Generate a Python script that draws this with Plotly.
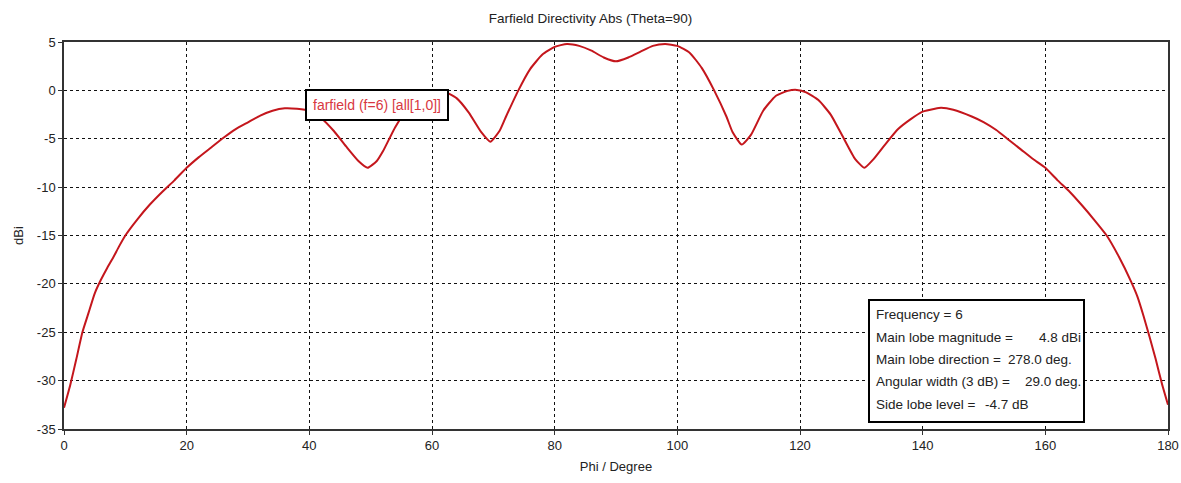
import plotly.graph_objects as go

phi = [0, 1, 2, 3, 4, 5, 6, 7, 8, 9, 10, 12, 14, 16, 18, 20, 22, 24, 26, 28, 30, 32, 34, 36, 38, 40,
       42, 44, 46, 48, 49.5, 51, 52, 54, 56, 58, 60, 61, 62, 64, 66, 68, 69.5, 71, 72, 74, 76, 78, 80,
       82, 84, 86, 88, 90, 92, 94, 96, 98, 100, 102, 104, 106, 108, 109, 110.5, 112, 114, 116, 118,
       119.5, 121, 123, 125, 127, 129, 130.5, 132, 134, 136, 138, 140, 142, 143, 145, 148, 150, 152,
       154, 156, 158, 160, 162, 164, 166, 168, 170, 172, 174, 175, 176, 177, 178, 179, 180]
dbi = [-32.8, -30.5, -27.8, -25.0, -23.0, -21.0, -19.6, -18.4, -17.3, -16.1, -15.0, -13.3, -11.8,
       -10.5, -9.3, -8.0, -6.9, -5.9, -4.9, -4.0, -3.3, -2.6, -2.1, -1.85, -1.9, -2.1,
       -2.9, -4.2, -5.8, -7.3, -8.0, -7.3, -6.3, -3.8, -1.9, -0.6, -0.05, 0.05, -0.1, -0.8, -2.3, -4.3,
       -5.3, -4.2, -2.8, -0.1, 2.2, 3.7, 4.5,
       4.8, 4.6, 4.1, 3.4, 3.0, 3.4, 4.0, 4.6, 4.8, 4.6, 3.9, 2.3, 0.0, -2.7, -4.3, -5.6, -4.6, -2.1,
       -0.6, -0.05, 0.05, -0.2, -1.0, -2.5, -4.8, -7.1, -8.0, -7.1, -5.5, -4.0, -3.0, -2.2, -1.9, -1.8,
       -2.0, -2.7, -3.3, -4.1, -5.1, -6.1, -7.1, -8.0, -9.3, -10.5, -11.9, -13.4, -15.0, -17.2, -19.8,
       -21.3, -23.3, -25.5, -27.8, -30.3, -32.5]

x_ticks = [0, 20, 40, 60, 80, 100, 120, 140, 160, 180]
y_ticks = [5, 0, -5, -10, -15, -20, -25, -30, -35]

title_text = "Farfield Directivity Abs (Theta=90)"
legend_text = "farfield (f=6) [all[1,0]]"
info_labels = ["Frequency = 6", "Main lobe magnitude =", "Main lobe direction =",
               "Angular width (3 dB) =", "Side lobe level ="]
info_values = ["", "4.8 dBi", "278.0 deg.", "29.0 deg.", "-4.7 dB"]

FONT = "Liberation Sans"
LINE_RED = "#c4161c"
TEXT_RED = "#d8383f"

# pixel geometry of the plot area
L, R, T, B = 64, 1168, 42, 429
def px(x):
    return (x - L) / (R - L)
def py(y):
    return (B - y) / (B - T)

fig = go.Figure()
fig.add_trace(go.Scatter(x=phi, y=dbi, mode="lines",
                         line=dict(color=LINE_RED, width=2, shape="spline", smoothing=0.5),
                         showlegend=False, hoverinfo="x+y"))

fig.update_layout(
    width=1181, height=483,
    paper_bgcolor="white", plot_bgcolor="white",
    margin=dict(l=L, r=1181 - R, t=T, b=483 - B, autoexpand=False),
    font=dict(family=FONT, size=13, color="#222"),
    title=dict(text=title_text, x=0.5, xanchor="center", y=1 - 18 / 483, yanchor="middle",
               font=dict(family=FONT, size=13.5, color="#222")),
    xaxis=dict(range=[0, 180], tickvals=x_ticks, ticktext=[str(v) for v in x_ticks],
               showgrid=True, gridcolor="#111", griddash="dot", gridwidth=1,
               showline=True, linecolor="#333", linewidth=1.5, mirror=True,
               ticks="outside", ticklen=4, tickcolor="#333", zeroline=False,
               tickfont=dict(size=13),
               title=dict(text="Phi / Degree", standoff=10, font=dict(size=13))),
    yaxis=dict(range=[-35, 5], tickvals=y_ticks, ticktext=[str(v) for v in y_ticks],
               showgrid=True, gridcolor="#111", griddash="dot", gridwidth=1,
               showline=True, linecolor="#333", linewidth=1.5, mirror=True,
               ticks="outside", ticklen=4, tickcolor="#333", zeroline=False,
               tickfont=dict(size=13),
               title=dict(text="dBi", standoff=10, font=dict(size=13))),
)

# curve label box
fig.add_annotation(xref="paper", yref="paper", x=px(376.5), y=py(105),
                   text=legend_text, showarrow=False, font=dict(family=FONT, size=14, color=TEXT_RED),
                   bgcolor="white", bordercolor="#000", borderwidth=2, borderpad=6,
                   xanchor="center", yanchor="middle")

# info box
fig.add_shape(type="rect", xref="paper", yref="paper",
              x0=px(869), x1=px(1084), y0=py(422), y1=py(300),
              line=dict(color="#000", width=2), fillcolor="white", layer="above")
value_x = [0, 1037, 1006, 1023, 983]
for i, (lab, val) in enumerate(zip(info_labels, info_values)):
    ypix = 315 + i * 22.3
    fig.add_annotation(xref="paper", yref="paper", x=px(874), y=py(ypix),
                       text=lab, showarrow=False, xanchor="left",
                       yanchor="middle", font=dict(family=FONT, size=13.5, color="#222"))
    if val:
        fig.add_annotation(xref="paper", yref="paper", x=px(value_x[i]), y=py(ypix),
                           text=val, showarrow=False, xanchor="left",
                           yanchor="middle", font=dict(family=FONT, size=13.5, color="#222"))

fig.write_html("out.html", config={"displayModeBar": False},
               post_script="document.body.style.margin='0';")
